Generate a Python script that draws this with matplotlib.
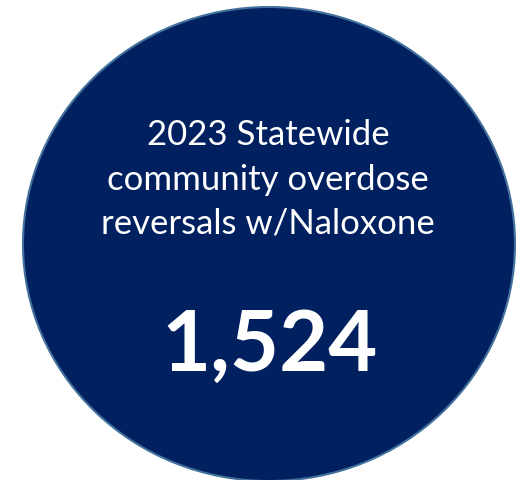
import matplotlib
matplotlib.use("Agg")
import matplotlib.pyplot as plt
from matplotlib.patches import Ellipse

# ── 数据 ──
title_lines = ["2023 Statewide", "community overdose", "reversals w/Naloxone"]
value = 1524

fig = plt.figure(figsize=(5.22, 4.81), dpi=100)
ax = fig.add_axes([0, 0, 1, 1])
ax.set_xlim(0, 522)
ax.set_ylim(481, 0)
ax.axis("off")

ax.add_patch(Ellipse((269, 245), 492, 474, facecolor="#002060",
                     edgecolor="#41719C", linewidth=1.5))

for y, line in zip([135, 180, 224], title_lines):
    ax.text(268, y, line, ha="center", va="center", color="white",
            fontsize=25, family="Lato")

ax.text(270, 346, f"{value:,}", ha="center", va="center", color="white",
        fontsize=61, family="Lato", fontweight="bold")

fig.savefig("out.png", dpi=100)
